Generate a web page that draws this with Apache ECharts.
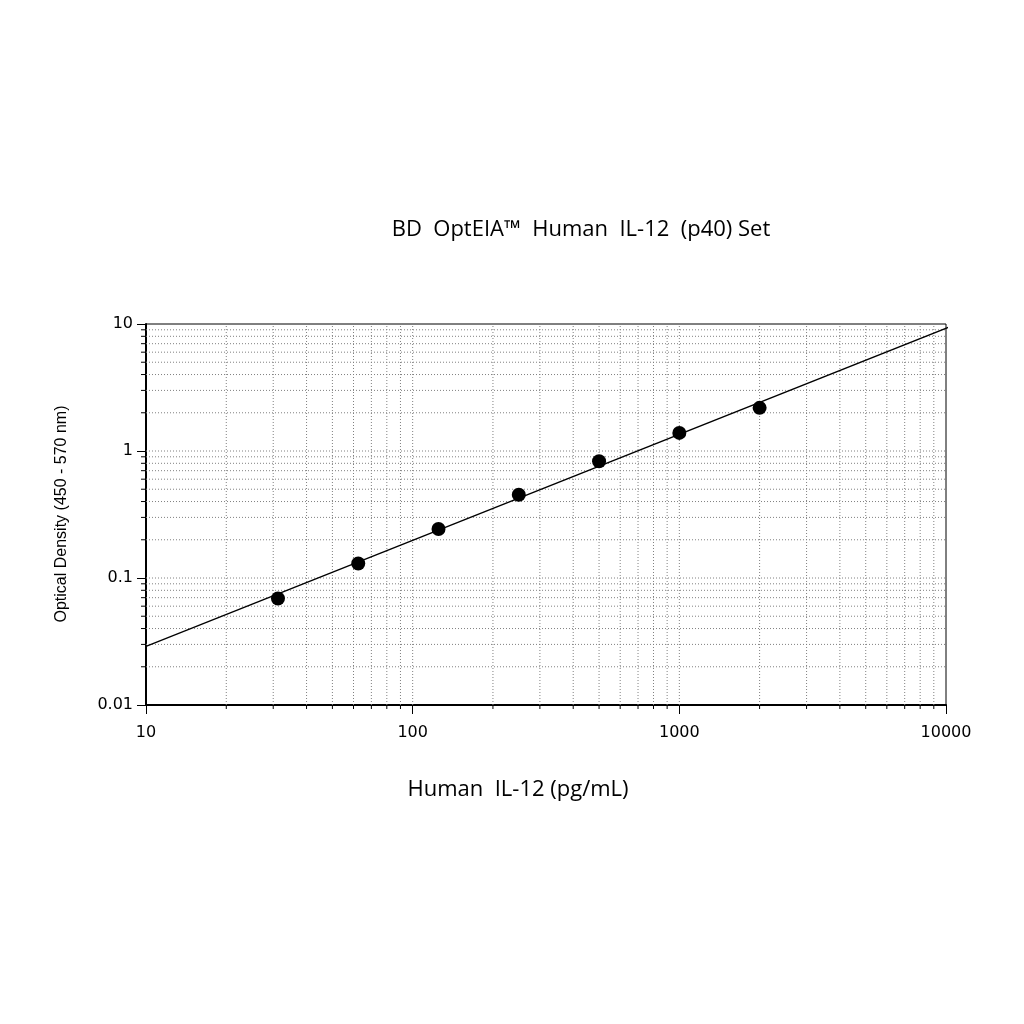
<!DOCTYPE html>
<html>
<head>
<meta charset="utf-8">
<script src="https://cdn.jsdelivr.net/npm/echarts@6/dist/echarts.min.js"></script>
<style>html,body{margin:0;padding:0;background:#fff;}#c{width:1024px;height:1024px;}</style>
</head>
<body>
<div id="c"></div>
<script>
// Data
const concentrations = [31.25, 62.5, 125, 250, 500, 1000, 2000];
const opticalDensity = [0.069, 0.130, 0.243, 0.453, 0.830, 1.389, 2.186];
const fitX = [10, 10700];
const fitY = [0.0289, 9.78];
const xTickValues = [10, 100, 1000, 10000];
const xTickLabels = ['10', '100', '1000', '10000'];
const yTickValues = [0.01, 0.1, 1, 10];
const yTickLabels = ['0.01', '0.1', '1', '10'];
const gridMultipliers = [1, 2, 3, 4, 5, 6, 7, 8, 9];
const xDecades = [10, 100, 1000];
const yDecades = [0.01, 0.1, 1];
const titleText = 'BD  OptEIA\u2122  Human  IL-12  (p40) Set';
const xName = 'Human  IL-12 (pg/mL)';
const yName = 'Optical Density (450 - 570 nm)';

const X_MIN = 10, X_MAX = 10000, Y_MIN = 0.01, Y_MAX = 10;

// grid line items: [x, y, orientation(0 vertical, 1 horizontal), isMinor]
const gridItems = [];
xDecades.forEach(d => gridMultipliers.forEach(m => {
  const v = d * m;
  if (v > X_MIN && v < X_MAX) gridItems.push([v, 1, 0, m === 1 ? 0 : 1]);
}));
yDecades.forEach(d => gridMultipliers.forEach(m => {
  const v = d * m;
  if (v > Y_MIN && v < Y_MAX) gridItems.push([100, v, 1, m === 1 ? 0 : 1]);
}));

function labelFor(values, labels) {
  return function (v) {
    for (let i = 0; i < values.length; i++) {
      if (Math.abs(Math.log10(v) - Math.log10(values[i])) < 1e-6) return labels[i];
    }
    return '';
  };
}

const chart = echarts.init(document.getElementById('c'), null, {renderer: 'canvas'});
chart.setOption({
  backgroundColor: '#ffffff',
  animation: false,
  grid: {left: 146, top: 324, width: 800, height: 381, show: true, borderColor: '#000', borderWidth: 1, backgroundColor: 'transparent'},
  graphic: [
    {type: 'text', x: 581, y: 230, style: {text: titleText, font: '22px "Open Sans"', fill: '#000', textAlign: 'center', textVerticalAlign: 'middle'}},
    {type: 'text', x: 518, y: 790, style: {text: xName, font: '22px "Open Sans"', fill: '#000', textAlign: 'center', textVerticalAlign: 'middle'}},
    {type: 'text', x: 62, y: 514, rotation: Math.PI / 2, style: {text: yName, font: '16px "Liberation Sans"', fill: '#000', textAlign: 'center', textVerticalAlign: 'middle'}}
  ],
  xAxis: {
    type: 'log', logBase: 10, min: X_MIN, max: X_MAX,
    axisLine: {lineStyle: {color: '#000', width: 2}},
    axisTick: {show: true, length: 9, lineStyle: {color: '#000', width: 1}},
    axisLabel: {color: '#000', fontFamily: 'DejaVu Sans', fontSize: 16, margin: 20, formatter: labelFor(xTickValues, xTickLabels)},
    splitLine: {show: false},
    minorTick: {show: false}, minorSplitLine: {show: false}
  },
  yAxis: {
    type: 'log', logBase: 10, min: Y_MIN, max: Y_MAX,
    axisLine: {lineStyle: {color: '#000', width: 2}},
    axisTick: {show: true, length: 9, lineStyle: {color: '#000', width: 1}},
    axisLabel: {color: '#000', fontFamily: 'DejaVu Sans', fontSize: 16, margin: 13, formatter: labelFor(yTickValues, yTickLabels)},
    splitLine: {show: false},
    minorTick: {show: false}, minorSplitLine: {show: false}
  },
  series: [
    {
      type: 'custom', z: 1, clip: false, silent: true,
      data: gridItems,
      renderItem: function (params, api) {
        const vx = api.value(0), vy = api.value(1), orient = api.value(2), minor = api.value(3);
        const children = [];
        if (orient === 0) {
          const p1 = api.coord([vx, Y_MIN]);
          const p2 = api.coord([vx, Y_MAX]);
          children.push({type: 'line', shape: {x1: p1[0], y1: p1[1], x2: p2[0], y2: p2[1]}, style: {stroke: '#808080', lineWidth: 1, lineDash: [1, 2]}});
          if (minor) children.push({type: 'line', shape: {x1: p1[0], y1: p1[1], x2: p1[0], y2: p1[1] + 4}, style: {stroke: '#000', lineWidth: 1}});
        } else {
          const p1 = api.coord([X_MIN, vy]);
          const p2 = api.coord([X_MAX, vy]);
          children.push({type: 'line', shape: {x1: p1[0], y1: p1[1], x2: p2[0], y2: p2[1]}, style: {stroke: '#808080', lineWidth: 1, lineDash: [1, 2]}});
          if (minor) children.push({type: 'line', shape: {x1: p1[0] - 5, y1: p1[1], x2: p1[0], y2: p1[1]}, style: {stroke: '#000', lineWidth: 1}});
        }
        return {type: 'group', children: children};
      }
    },
    {
      type: 'line', z: 3, clip: false, silent: true,
      data: fitX.map((x, i) => [x, fitY[i]]),
      symbol: 'none',
      lineStyle: {color: '#000', width: 1.3}
    },
    {
      type: 'scatter', z: 4,
      data: concentrations.map((x, i) => [x, opticalDensity[i]]),
      symbol: 'circle', symbolSize: 14,
      itemStyle: {color: '#000', opacity: 1}
    }
  ]
});
</script>
</body>
</html>
